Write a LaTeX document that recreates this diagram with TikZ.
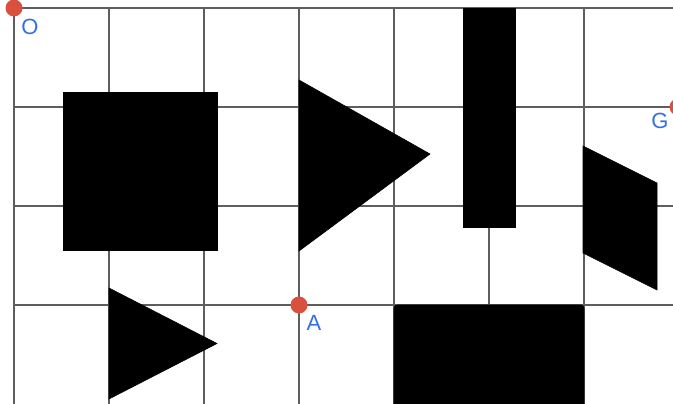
\documentclass[tikz,border=0pt]{standalone}
\usepackage{fontspec}
\setsansfont{Liberation Sans}
\usetikzlibrary{positioning,calc}
\definecolor{gridgray}{HTML}{5E5E5E}
\definecolor{dotred}{HTML}{D9503F}
\definecolor{labelblue}{HTML}{3370E0}
\tikzset{GRID/.style={draw=gridgray, line width=1.3pt}}
\tikzset{SHAPE/.style={fill=black, draw=black, line width=0.6pt}}
\tikzset{POINT/.style={circle, fill=dotred, inner sep=0pt, minimum size=17pt}}
\tikzset{LABEL/.style={text=labelblue, font=\sffamily\fontsize{22}{22}\selectfont, inner sep=0pt}}

\begin{document}
\begin{tikzpicture}[x=1pt, y=-1pt]
    \useasboundingbox (0,0) rectangle (673,404);
    \clip (0,0) rectangle (673,404);

    % grid, 95 wide cells starting at O
    \foreach \gx in {14,109,204,299,394,489,584,679}
        \draw[GRID] (\gx,8) -- (\gx,410);
    \foreach \gy in {8,107,206,305}
        \draw[GRID] (14,\gy) -- (680,\gy);

    % shapes
    \fill[SHAPE] (63,92) rectangle (217,250);
    \fill[SHAPE] (299,80) -- (430,154) -- (299,251) -- cycle;
    \fill[SHAPE] (463,8) rectangle (515,227);
    \fill[SHAPE] (583,146) -- (657,183) -- (657,290) -- (583,253) -- cycle;
    \fill[SHAPE] (109,288) -- (217,343.5) -- (109,399) -- cycle;
    \fill[SHAPE, rounded corners=3pt] (394,305) rectangle (584,420);

    % points
    \node[POINT] (pt_o) at (14,8) {};
    \node[POINT] (pt_a) at (299,305) {};
    \node[POINT] (pt_g) at (678,107) {};

    \node[LABEL] (lbl_o) at ($(pt_o)+(16,19)$) {O};
    \node[LABEL] (lbl_a) at ($(pt_a)+(15,18)$) {A};
    \node[LABEL] (lbl_g) at ($(pt_g)+(-18,14)$) {G};

\end{tikzpicture}
\end{document}
